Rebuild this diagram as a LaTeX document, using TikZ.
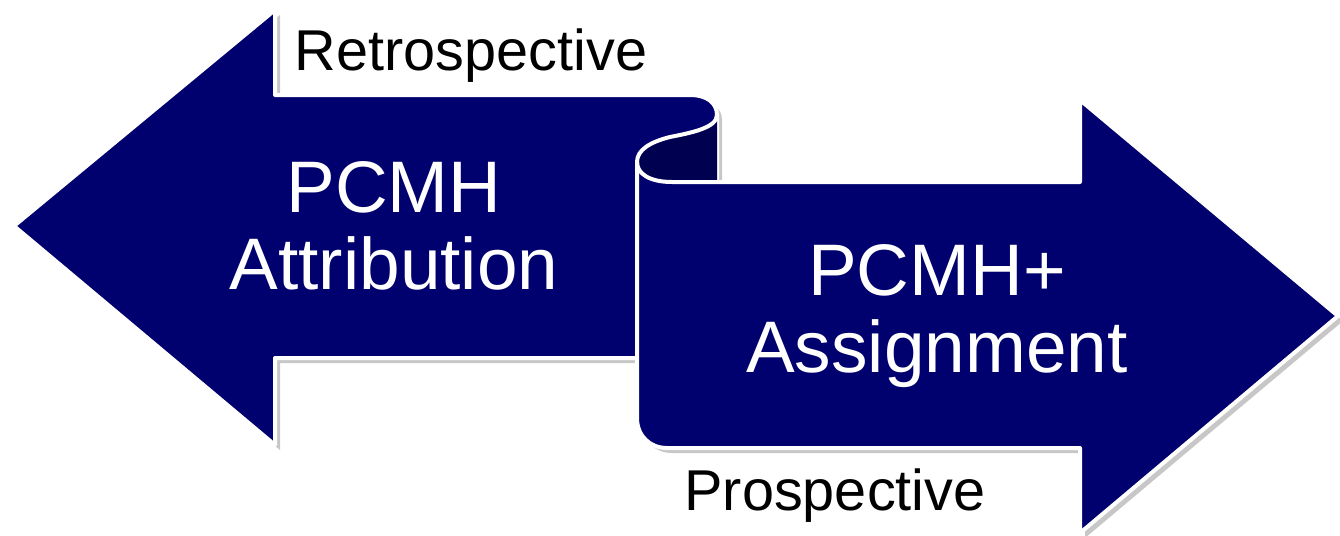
\documentclass[tikz,border=0pt]{standalone}
\usepackage{fontspec}
\setmainfont{Liberation Sans}
\usepackage{xcolor}
\usepackage{tikz}
\usetikzlibrary{shadows}
\definecolor{navy}{RGB}{0,0,110}
\definecolor{navyback}{RGB}{0,0,80}
\tikzset{
	band/.style={fill=navy,draw=white,line width=2pt,line join=round,
		drop shadow={shadow xshift=2.5pt,shadow yshift=-2.5pt,opacity=0.22,fill=black}},
	back/.style={fill=navyback,draw=white,line width=2pt},
	time label/.style={font=\fontsize{28.8}{34}\selectfont,text=black,inner sep=0pt},
	name label/.style={font=\fontsize{36.5}{38.5}\selectfont,text=white,align=center,inner sep=0pt}
}

\begin{document}
\begin{tikzpicture}[x=0.5pt,y=-0.5pt]
	\useasboundingbox (0,0) rectangle (1340,536);
	% left arrow (retrospective)
	\path[band] (14,226) -- (275,10) -- (275,95) -- (690,95)
		.. controls (707,95) and (717,103) .. (717,115) -- (717,358)
		-- (275,358) -- (275,445) -- cycle;
	% back of the curl
	\path[back] (717,115) .. controls (717,128) and (690,133) .. (670,137)
		.. controls (650,142) and (637,150) .. (637,162) -- (637,182) -- (717,182);
	% right arrow (prospective)
	\path[band] (672,182) -- (1080,182) -- (1080,100) -- (1338,316)
		-- (1080,533) -- (1080,448) -- (667,448)
		.. controls (650,448) and (637,436) .. (637,418) -- (637,162)
		.. controls (637,174) and (650,182) .. (672,182) -- cycle;
	% texts
	\node[time label,anchor=base] (retro) at (471,70) {Retrospective};
	\node[time label,anchor=base] (pro) at (835,510) {Prospective};
	\node[name label] (attr) at (394,226) {PCMH\\Attribution};
	\node[name label] (assign) at (937,316) {PCMH+\\Assignment};
\end{tikzpicture}
\end{document}
